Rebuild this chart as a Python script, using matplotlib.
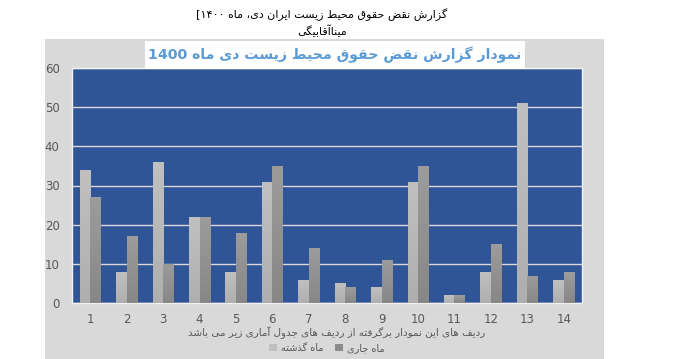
import re
import numpy as np
import matplotlib
matplotlib.use('Agg')
import matplotlib.pyplot as plt
from matplotlib.patches import Rectangle, Patch

# data
categories = list(range(1, 15))
last_month = [34, 8, 36, 22, 8, 31, 6, 5, 4, 31, 2, 8, 51, 6]
this_month = [27, 17, 10, 22, 18, 35, 14, 4, 11, 35, 2, 15, 7, 8]
series_names = ['ماه گذشته', 'ماه جاری']

header = 'گزارش نقض حقوق محیط زیست ایران دی، ماه ۱۴۰۰['
author = 'میناآقابیگی'
chart_title = 'نمودار گزارش نقض حقوق محیط زیست دی ماه 1400'
x_caption = 'ردیف های این نمودار برگرفته از ردیف های جدول آماری زیر می باشد'

# minimal arabic/persian shaping (matplotlib does no text shaping / bidi)
JOIN = {
    'ا': (0xFE8D, 2), 'آ': (0xFE81, 2), 'ب': (0xFE8F, 4), 'ت': (0xFE95, 4),
    'ج': (0xFE9D, 4), 'ح': (0xFEA1, 4), 'د': (0xFEA9, 2), 'ذ': (0xFEAB, 2),
    'ر': (0xFEAD, 2), 'ز': (0xFEAF, 2), 'س': (0xFEB1, 4), 'ش': (0xFEB5, 4),
    'ض': (0xFEBD, 4), 'ط': (0xFEC1, 4), 'ف': (0xFED1, 4), 'ق': (0xFED5, 4),
    'ل': (0xFEDD, 4), 'م': (0xFEE1, 4), 'ن': (0xFEE5, 4), 'ه': (0xFEE9, 4),
    'و': (0xFEED, 2), 'ی': (0xFBFC, 4), 'گ': (0xFB92, 4), 'پ': (0xFB56, 4),
    'ک': (0xFB8E, 4),
}


def shape(text):
    out = []
    for i, ch in enumerate(text):
        if ch not in JOIN:
            out.append(ch)
            continue
        base, n = JOIN[ch]
        prev = text[i - 1] if i > 0 else ''
        nxt = text[i + 1] if i + 1 < len(text) else ''
        jp = prev in JOIN and JOIN[prev][1] == 4
        jn = n == 4 and nxt in JOIN
        k = 3 if (jp and jn) else 1 if jp else 2 if jn else 0
        out.append(chr(base + k))
    runs = re.findall(r'[0-9۰-۹]+|[^0-9۰-۹]+', ''.join(out))
    return ''.join(r if r[0].isdigit() else r[::-1] for r in reversed(runs))


plt.rcParams['font.family'] = ['DejaVu Sans']

fig = plt.figure(figsize=(6.79, 3.59), dpi=100)
fig.patch.set_facecolor('white')

# grey chart area
fig.patches.append(Rectangle((45 / 679, 0), 559 / 679, 320 / 359,
                             transform=fig.transFigure, facecolor='#d9d9d9',
                             edgecolor='none', zorder=-5))

ax = fig.add_axes([72 / 679, 56 / 359, 510 / 679, 235 / 359])
ax.set_facecolor('#2f5597')

x = np.array(categories)
w = 0.29
bars1 = ax.bar(x - w, last_month, width=w, align='edge', color='#b9b9b9', zorder=3)
bars2 = ax.bar(x, this_month, width=w, align='edge', color='#919191', zorder=3)

# vertical gradient on each bar
for bars, top, bot in [(bars1, '#c0c0c0', '#afafaf'), (bars2, '#9c9c9c', '#878787')]:
    c1 = np.array(matplotlib.colors.to_rgb(top))
    c2 = np.array(matplotlib.colors.to_rgb(bot))
    grad = np.linspace(0, 1, 64)[:, None, None]
    img = c1 * (1 - grad) + c2 * grad
    for b in bars:
        x0, y0 = b.get_x(), b.get_y()
        im = ax.imshow(img, extent=(x0, x0 + b.get_width(), y0, y0 + b.get_height()),
                       aspect='auto', zorder=4, interpolation='bilinear')
        im.set_clip_path(b)

ax.set_xlim(0.5, 14.5)
ax.set_ylim(0, 60)
ax.set_yticks(range(0, 61, 10))
ax.set_xticks(x)
ax.set_xticklabels([str(c) for c in categories])
ax.yaxis.grid(True, color='#d9d9d9', linewidth=1, zorder=1)
ax.set_axisbelow(True)
ax.tick_params(length=0, labelsize=8.5, labelcolor='#595959')
ax.tick_params(axis='x', pad=7)
ax.tick_params(axis='y', pad=9)
for s in ax.spines.values():
    s.set_color('#f2f2f2')
    s.set_linewidth(1)

# axis caption
fig.text(337 / 679, 1 - 333 / 359, shape(x_caption), ha='center', va='center',
         fontsize=7.5, color='#595959')

handles = [Patch(facecolor='#bfbfbf'), Patch(facecolor='#8c8c8c')]
fig.legend(handles, [shape(s) for s in series_names], loc='center',
           bbox_to_anchor=(327 / 679, 1 - 348 / 359), ncol=2, frameon=False,
           fontsize=7, labelcolor='#595959', handlelength=0.8, handleheight=0.8,
           handletextpad=0.4, columnspacing=1.2, borderpad=0.1)

# title box
fig.patches.append(Rectangle((145 / 679, 1 - 69 / 359), 380 / 679, 28 / 359,
                             transform=fig.transFigure, facecolor='white',
                             edgecolor='none', zorder=5))
fig.text(335 / 679, 1 - 55 / 359, shape(chart_title), ha='center', va='center',
         fontsize=10.2, fontweight='bold', color='#5b9bd5', zorder=6)

fig.text(322 / 679, 1 - 15 / 359, shape(header), ha='center', va='center',
         fontsize=8, color='black')
fig.text(322 / 679, 1 - 31 / 359, shape(author), ha='center', va='center',
         fontsize=8, color='black')

fig.savefig('out.png', dpi=100)
